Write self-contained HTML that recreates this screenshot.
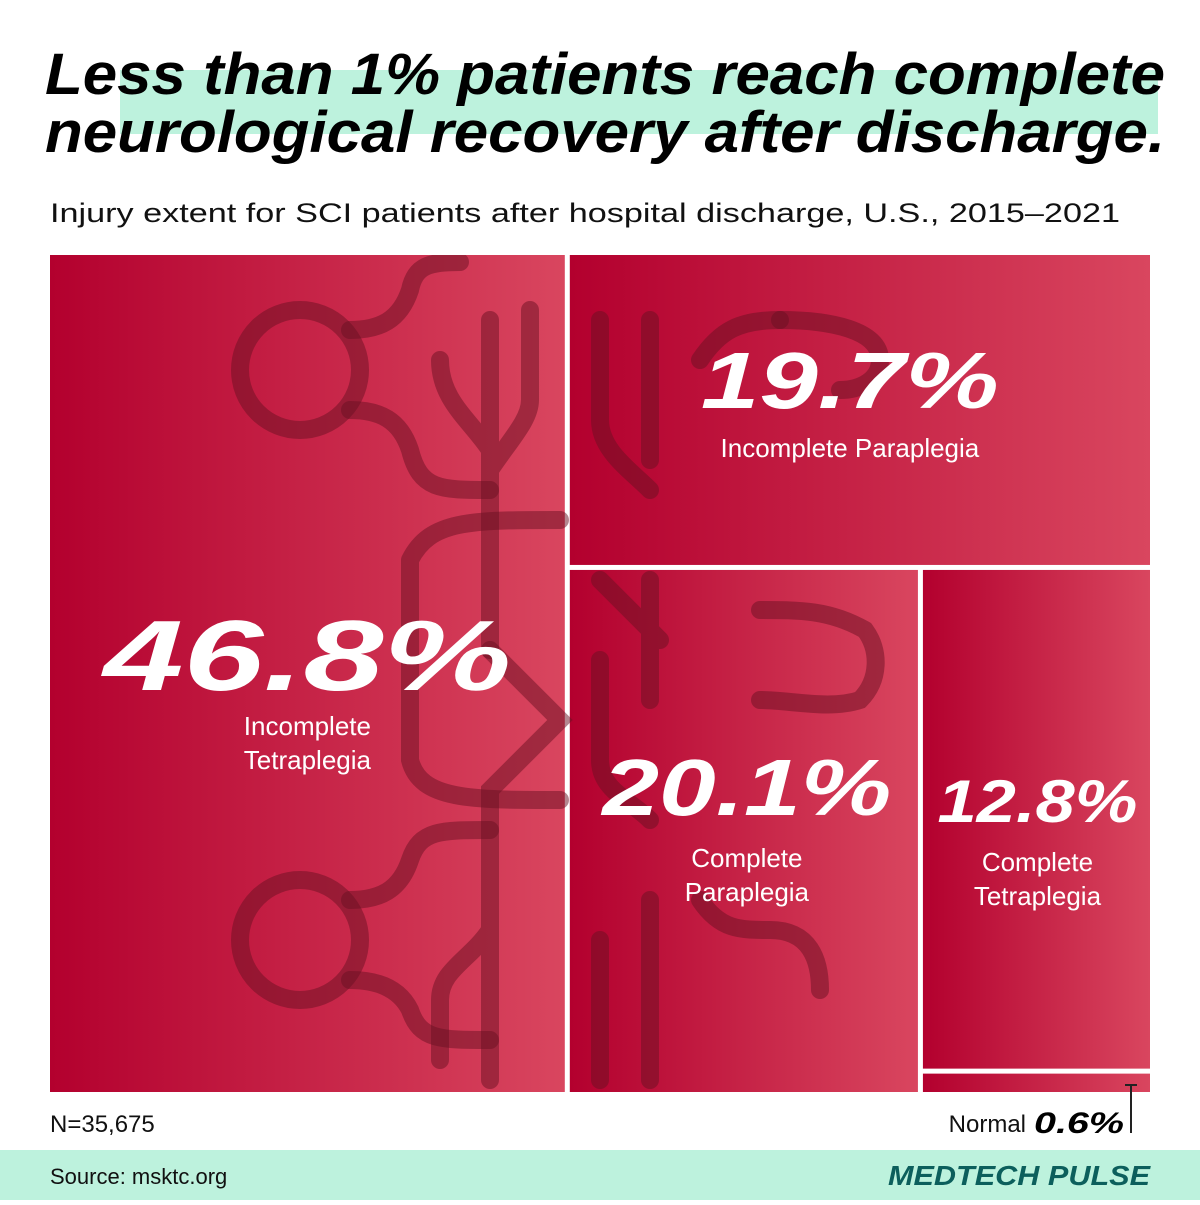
<!DOCTYPE html>
<html><head><meta charset="utf-8"><style>
body{margin:0;width:1200px;height:1200px;background:#fff;overflow:hidden;font-family:"Liberation Sans",sans-serif}
</style></head><body>
<svg width="1200" height="1200" viewBox="0 0 1200 1200">
<defs>
<linearGradient id="g" x1="0" x2="1" y1="0" y2="0"><stop offset="0" stop-color="#b3002e"/><stop offset="1" stop-color="#d9465f"/></linearGradient>
<clipPath id="cp"><rect x="50" y="255" width="1100" height="837"/></clipPath>
</defs>
<rect x="120" y="70" width="1038" height="64" fill="#bdf2dd"/>
<text x="45" y="94" font-size="58" font-weight="bold" font-style="italic" textLength="1120" lengthAdjust="spacingAndGlyphs">Less than 1% patients reach complete</text>
<text x="45" y="152" font-size="58" font-weight="bold" font-style="italic" textLength="1120" lengthAdjust="spacingAndGlyphs">neurological recovery after discharge.</text>
<text x="50" y="222" font-size="27" fill="#111" textLength="1070" lengthAdjust="spacingAndGlyphs">Injury extent for SCI patients after hospital discharge, U.S., 2015–2021</text>
<g id="tm"></g>
<g clip-path="url(#cp)" fill="none" stroke="#6a1022" stroke-opacity="0.5" stroke-width="18" stroke-linecap="round">
<circle cx="300" cy="370" r="60"/><circle cx="300" cy="940" r="60"/>
<path d="M350 330 C380 330 400 320 410 290 C415 265 430 262 460 262"/>
<path d="M350 410 C380 410 400 420 410 450 C420 490 440 490 490 490"/>
<path d="M350 900 C380 900 400 890 410 860 C420 830 440 830 490 830"/>
<path d="M350 980 C380 980 400 990 410 1010 C420 1040 440 1040 490 1040"/>
<path d="M490 320 V650 M440 360 C440 400 470 420 490 450 M530 310 V400 C530 420 510 440 490 470"/>
<path d="M410 560 C430 520 470 520 560 520 M410 560 V760 C420 800 470 800 560 800"/>
<path d="M490 650 L560 720 L490 790 V1080 M440 1060 V1000 C440 970 470 960 490 930"/>
<path d="M600 320 V420 C600 450 630 470 650 490 M650 320 V460 M700 360 C720 330 740 320 780 320"/>
<path d="M780 320 C830 320 880 330 880 360 C880 380 860 390 840 390"/>
<path d="M600 580 L660 640 M650 580 V700 M600 660 V760 C600 790 630 800 650 820"/>
<path d="M760 610 C800 610 830 610 865 630 C880 650 880 680 860 700 C830 710 790 700 760 700"/>
<path d="M600 940 V1080 M650 900 V1080 M700 900 C720 930 740 930 770 930 C810 930 820 960 820 990"/>
</g>
<g id="labels"></g>
<text x="50" y="1132" font-size="24" fill="#111">N=35,675</text>
<text x="1026" y="1132" font-size="24" fill="#111" text-anchor="end">Normal</text>
<text x="1034" y="1133" font-size="30" font-weight="bold" font-style="italic" fill="#000" textLength="90" lengthAdjust="spacingAndGlyphs">0.6%</text>
<path d="M1131 1085 V1133 M1125 1085 H1137" stroke="#222" stroke-width="2"/>
<rect x="0" y="1150" width="1200" height="50" fill="#bdf2dd"/>
<text x="50" y="1184" font-size="22" fill="#111">Source: msktc.org</text>
<text x="1150" y="1185" font-size="28" font-weight="bold" font-style="italic" fill="#0c5f5c" text-anchor="end" textLength="262" lengthAdjust="spacingAndGlyphs">MEDTECH PULSE</text>
</svg>
<script>
const categories=["Incomplete Tetraplegia","Incomplete Paraplegia","Complete Paraplegia","Complete Tetraplegia","Normal"];
const values=[46.8,19.7,20.1,12.8,0.6];
const valueLabels=["46.8%","19.7%","20.1%","12.8%","0.6%"];
const NS="http://www.w3.org/2000/svg";
const X0=50,Y0=255,W=1100,H=837,G=5;
const tot=values.reduce((a,b)=>a+b,0);
const g=document.getElementById('tm');
const lg=document.getElementById('labels');
const rects=[];
const w0=W*values[0]/tot;
rects.push([X0,Y0,w0,H]);
const rx=X0+w0+G, rw=W-w0-G;
const rest=tot-values[0];
const h1=H*values[1]/rest;
rects.push([rx,Y0,rw,h1]);
const by=Y0+h1+G, bh=H-h1-G;
const rest2=values[2]+values[3]+values[4];
const w2=rw*values[2]/rest2;
rects.push([rx,by,w2,bh]);
const cx=rx+w2+G, cw=rw-w2-G;
const rest3=values[3]+values[4];
const h3=bh*values[3]/rest3;
rects.push([cx,by,cw,h3]);
rects.push([cx,by+h3+G,cw,bh-h3-G]);
const rectNames=['rect-incomplete-tetraplegia','rect-incomplete-paraplegia','rect-complete-paraplegia','rect-complete-tetraplegia','rect-normal'];
rects.forEach((r,i)=>{
const e=document.createElementNS(NS,'rect');
e.setAttribute('x',r[0]);e.setAttribute('y',r[1]);e.setAttribute('width',r[2]);e.setAttribute('height',r[3]);
e.setAttribute('fill','url(#g)');


g.appendChild(e);
});
const big=[100,80,80,60];
const bigW=[408,298,289,200];
const dx=[0,-10,3,1];
const dy=[435,153,245,252];
const subDy=[45,49,52,49];
for(let i=0;i<4;i++){
const r=rects[i];const cxp=r[0]+r[2]/2+dx[i];const cyp=r[1]+dy[i];
const t=document.createElementNS(NS,'text');
t.setAttribute('x',cxp);t.setAttribute('y',cyp);
t.setAttribute('text-anchor','middle');t.setAttribute('fill','#fff');
t.setAttribute('font-size',big[i]);t.setAttribute('font-weight','bold');t.setAttribute('font-style','italic');
t.setAttribute('textLength',bigW[i]);t.setAttribute('lengthAdjust','spacingAndGlyphs');
t.textContent=valueLabels[i];


lg.appendChild(t);
const words=i===1?[categories[i]]:categories[i].split(' ');
words.forEach((w,k)=>{
const s=document.createElementNS(NS,'text');
s.setAttribute('x',cxp);s.setAttribute('y',cyp+subDy[i]+k*34);
s.setAttribute('text-anchor','middle');s.setAttribute('fill','#fff');s.setAttribute('font-size','26');
s.textContent=w;


lg.appendChild(s);
});
}
</script>
</body></html>
